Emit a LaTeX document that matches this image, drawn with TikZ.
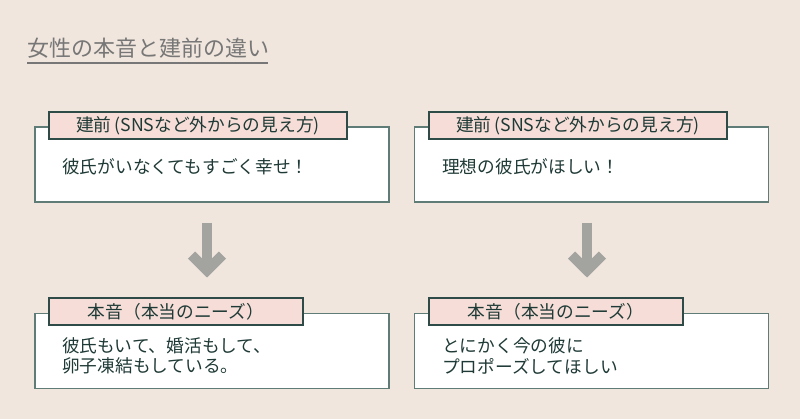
\documentclass[tikz,border=0pt]{standalone}
\usepackage{fontspec}
\setmainfont{Noto Sans CJK JP}
\usepackage{tikz}
\definecolor{bgbeige}{HTML}{F1E6DD}
\definecolor{tagpink}{HTML}{F6DDD7}
\definecolor{tagline}{HTML}{2E4B47}
\definecolor{boxline}{HTML}{5F7C77}
\definecolor{textteal}{HTML}{1F3A36}
\definecolor{arrowgray}{HTML}{A3A3A0}
\definecolor{titlegray}{HTML}{777777}
\usetikzlibrary{arrows.meta}
\tikzstyle{mainbox}=[rectangle, draw=boxline, line width=1.5pt, fill=white, minimum width=354pt, minimum height=75pt, inner sep=0pt]
\tikzstyle{tagbox}=[rectangle, draw=tagline, line width=2pt, fill=tagpink, text=textteal, minimum height=27pt, inner sep=0pt, font=\fontsize{17.7}{20}\selectfont]
\tikzstyle{bodytext}=[anchor=west, align=left, text=textteal, inner sep=0pt, font=\fontsize{17.7}{20.5}\selectfont]
\tikzstyle{bigarrow}=[draw=arrowgray, line width=10pt, -{Straight Barb[length=15.4pt, width=31pt, line cap=butt, line join=miter]}]

\begin{document}
\begin{tikzpicture}[x=1pt, y=-1pt]
	\fill[bgbeige] (0,0) rectangle (800,419);
	\useasboundingbox (0,0) rectangle (800,419);
	\node[anchor=west, inner sep=0pt, text=titlegray, font=\fontsize{22}{26}\selectfont] (title) at (27,48) {女性の本音と建前の違い};
	\draw[titlegray, line width=1.3pt] (27,63) -- (268,63);
	% upper row
	\node[mainbox] (lbox1) at (212,164.5) {};
	\node[mainbox] (rbox1) at (591.5,164.5) {};
	\node[tagbox, minimum width=298pt] (ltag1) at (198,126) {建前\,(SNSなど外からの見え方)};
	\node[tagbox, minimum width=298pt] (rtag1) at (578,126) {建前\,(SNSなど外からの見え方)};
	\node[bodytext] (ltext1) at (62,167) {彼氏がいなくてもすごく幸せ！};
	\node[bodytext] (rtext1) at (442,167) {理想の彼氏がほしい！};
	% lower row
	\node[mainbox] (lbox2) at (212,351) {};
	\node[mainbox] (rbox2) at (591.5,351) {};
	\node[tagbox, minimum width=254pt] (ltag2) at (176,312) {本音（本当のニーズ）};
	\node[tagbox, minimum width=254pt] (rtag2) at (556,312) {本音（本当のニーズ）};
	\node[bodytext] (ltext2) at (62,356) {彼氏もいて、婚活もして、\\卵子凍結もしている。};
	\node[bodytext] (rtext2) at (442,356) {とにかく今の彼に\\プロポーズしてほしい};
	% arrows
	\draw[bigarrow] ([xshift=-5pt, yshift=-20pt]lbox1.south) -- ([xshift=31pt, yshift=20pt]ltag2.north);
	\draw[bigarrow] ([xshift=-4.5pt, yshift=-20pt]rbox1.south) -- ([xshift=31pt, yshift=20pt]rtag2.north);
\end{tikzpicture}
\end{document}
